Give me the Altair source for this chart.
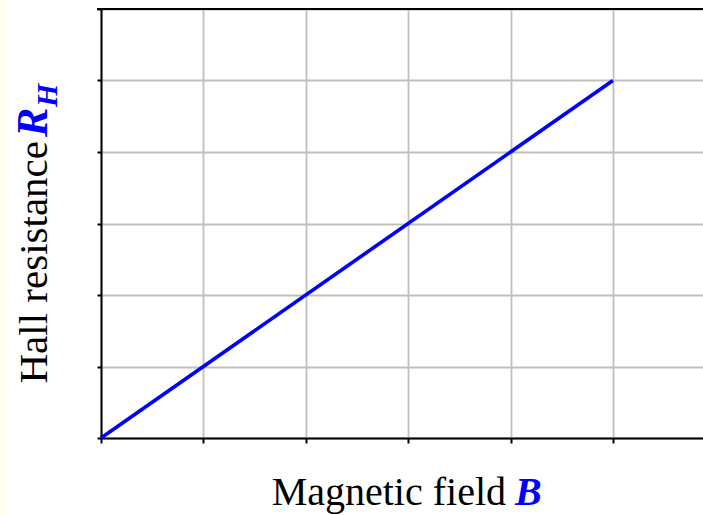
import altair as alt
import pandas as pd

# Hall resistance rises linearly with magnetic field
field_b = [0, 5]
hall_r = [0, 5]

x_ticks = [0, 1, 2, 3, 4, 5]
y_ticks = [0, 1, 2, 3, 4, 5, 6]

W, H = 602, 429
SERIF = "Liberation Serif"
BLUE = "#0000ff"
GRID = "#c0c0b8"

df = pd.DataFrame({"B": field_b, "R": hall_r})

x_scale = alt.Scale(domain=[0, 5.88], nice=False, zero=False)
y_scale = alt.Scale(domain=[0, 6], nice=False, zero=False)

line = alt.Chart(df).mark_line(color=BLUE, strokeWidth=3.6, clip=False).encode(
    x=alt.X("B:Q", scale=x_scale,
            axis=alt.Axis(values=x_ticks, labels=False, title=None, tickSize=5,
                          tickWidth=2, tickColor="black", domainColor="black",
                          domainWidth=2, gridColor=GRID, gridWidth=1.8)),
    y=alt.Y("R:Q", scale=y_scale,
            axis=alt.Axis(values=y_ticks, labels=False, title=None, tickSize=4,
                          tickWidth=2, tickColor="black", domainColor="black",
                          domainWidth=2, gridColor=GRID, gridWidth=1.8)),
)

# black top border of the plot area
top = alt.Chart(pd.DataFrame({"R": [6]})).mark_rule(color="black", strokeWidth=2).encode(
    y=alt.Y("R:Q", scale=y_scale), x=alt.value(-4), x2=alt.value(W)
)

# pale strip along the left edge
strip = alt.Chart(pd.DataFrame({"a": [0]})).mark_rect(color="#fffff0").encode(
    x=alt.value(-101), x2=alt.value(-94), y=alt.value(-9), y2=alt.value(H + 77)
)

def label(text, x, y, color="black", weight="normal", style="normal",
          size=40, align="left", angle=0):
    return alt.Chart(pd.DataFrame({"t": [text]})).mark_text(
        font=SERIF, fontSize=size, color=color, fontWeight=weight,
        fontStyle=style, align=align, baseline="alphabetic", angle=angle,
    ).encode(text="t:N", x=alt.value(x), y=alt.value(y))

x_title = label("Magnetic field", 405, 496, align="right")
x_sym = label("B", 414, 496, color=BLUE, weight="bold", style="italic")

y_title = label("Hall resistance", -54, 132, size=41, align="right", angle=270)
y_sym = label("R", -54, 128, color=BLUE, weight="bold", style="italic",
              size=44, angle=270)
y_sub = label("H", -44, 98, color=BLUE, weight="bold", style="italic",
              size=30, angle=270)

chart = alt.layer(strip, line, top, x_title, x_sym, y_title, y_sym, y_sub).properties(
    width=W, height=H,
    autosize=alt.AutoSizeParams(type="none"),
    padding={"left": 101, "top": 9, "right": 0, "bottom": 77},
    background="white",
).configure_view(stroke=None)

chart.save("out.html", embed_options={"renderer": "svg", "actions": False})
